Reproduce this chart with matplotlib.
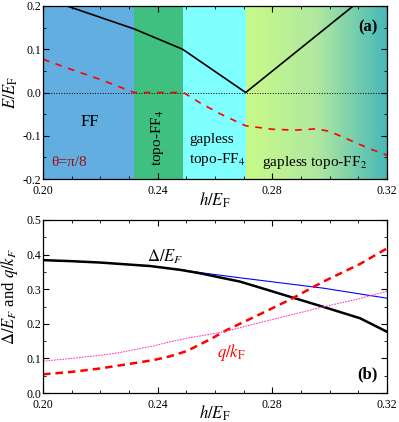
import numpy as np
import matplotlib.pyplot as plt
from matplotlib.colors import LinearSegmentedColormap
from matplotlib.ticker import MultipleLocator

plt.rcParams['font.family'] = 'Liberation Serif'
plt.rcParams['mathtext.fontset'] = 'stix'
plt.rcParams['font.size'] = 10

# phase boundaries (h/E_F)
h_min, h_b1, h_b2, h_b3, h_max = 0.20, 0.2318, 0.2487, 0.2707, 0.32

# panel (a): gap lines
h_gap = [0.20, 0.2318, 0.2487, 0.2707, 0.3082, 0.32]
e_gap = [0.219, 0.147, 0.10, 0.0, 0.20, 0.263]
h_red = [0.200, 0.210, 0.220, 0.2318, 0.240, 0.249, 0.2548, 0.262, 0.2707,
         0.280, 0.288, 0.2955, 0.300, 0.307, 0.314, 0.320]
e_red = [0.077, 0.053, 0.030, 0.0, 0.0, 0.0, -0.024, -0.050, -0.077,
         -0.085, -0.087, -0.084, -0.090, -0.110, -0.130, -0.145]

# panel (b)
h_b = [0.200, 0.210, 0.220, 0.2373, 0.2478, 0.2548, 0.2617, 0.2687, 0.2775,
       0.2862, 0.2978, 0.3106, 0.320]
delta_black = [0.384, 0.381, 0.377, 0.367, 0.356, 0.346, 0.334, 0.322, 0.300,
               0.278, 0.249, 0.216, 0.177]
h_blue = [0.200, 0.220, 0.2373, 0.2478, 0.2548, 0.2687, 0.2978, 0.320]
delta_blue = [0.384, 0.377, 0.367, 0.357, 0.348, 0.333, 0.303, 0.274]
h_q = [0.200, 0.210, 0.220, 0.2269, 0.2385, 0.2443, 0.2501, 0.2583, 0.2641,
       0.2745, 0.2862, 0.2978, 0.3106, 0.320]
q_red = [0.054, 0.061, 0.071, 0.080, 0.095, 0.106, 0.121, 0.155, 0.182,
         0.223, 0.270, 0.322, 0.373, 0.418]
q_pink = [0.092, 0.100, 0.109, 0.117, 0.136, 0.148, 0.158, 0.170, 0.179,
          0.201, 0.225, 0.249, 0.273, 0.294]

fig = plt.figure(figsize=(3.99, 4.22), dpi=100)
ax1 = fig.add_axes([43 / 399, 1 - 179 / 422, 344 / 399, 173 / 422])
ax2 = fig.add_axes([43 / 399, 1 - 393 / 422, 344 / 399, 173 / 422])

# coloured phase regions
ax1.axvspan(h_min, h_b1, color='#62aee0', lw=0, zorder=0)
ax1.axvspan(h_b1, h_b2, color='#40c080', lw=0, zorder=0)
ax1.axvspan(h_b2, h_b3, color='#80ffff', lw=0, zorder=0)
cmap = LinearSegmentedColormap.from_list('g', ['#c8fa88', '#b0e8a0', '#46b8b8'])
grad = np.linspace(0, 1, 256).reshape(1, -1)
ax1.imshow(grad, extent=[h_b3, h_max, -0.2, 0.2], aspect='auto', cmap=cmap,
           zorder=0)

ax1.axhline(0, color='black', lw=0.7, ls=':', zorder=1)
ax1.plot(h_gap, e_gap, color='black', lw=1.2, zorder=2)
ax1.plot(h_red, e_red, color='red', lw=1.2, ls=(0, (4, 4)), zorder=2)

ax1.text(0.2164, -0.068, 'FF', fontsize=12, ha='center', va='center')
ax1.text(0.2400, -0.105, 'topo-FF$_4$', fontsize=11, rotation=90,
         ha='center', va='center')
ax1.text(0.2511, -0.134, 'gapless\ntopo-FF$_4$', fontsize=11,
         ha='left', va='center', linespacing=1.45)
ax1.text(0.2949, -0.161, 'gapless topo-FF$_2$', fontsize=11,
         ha='center', va='center')
ax1.text(0.2030, -0.163, 'θ=π/8', fontsize=11, color='#a01010',
         ha='left', va='center')
ax1.text(0.3167, 0.150, '(a)', fontsize=12, fontweight='bold',
         ha='right', va='center')

ax1.set_xlim(h_min, h_max)
ax1.set_ylim(-0.2, 0.2)
ax1.set_ylabel(r'$E/E_{\rm F}$', fontsize=12)
ax1.set_xlabel(r'$h/E_{\rm F}$', fontsize=12)
ax1.xaxis.set_label_coords(0.5, -0.121)
ax1.yaxis.set_label_coords(-0.093, 0.5)
ax1.yaxis.set_major_locator(MultipleLocator(0.1))
ax1.yaxis.set_minor_locator(MultipleLocator(0.05))
ax1.yaxis.set_major_formatter(lambda v, p: f'{v:.1f}')

ax2.plot(h_blue, delta_blue, color='blue', lw=0.8)
ax2.plot(h_b, delta_black, color='black', lw=1.8)
ax2.plot(h_q, q_red, color='red', lw=1.8, ls=(0, (3, 2)))
ax2.plot(h_q, q_pink, color='#ff40c0', lw=0.8, ls=(0, (1.5, 1)))

ax2.text(0.2363, 0.393, r'$\Delta/E_F$', fontsize=12, ha='left', va='center')
ax2.text(0.2606, 0.116, r'$q/k_{\rm F}$', fontsize=12, color='red',
         ha='left', va='center')
ax2.text(0.3167, 0.055, '(b)', fontsize=12, fontweight='bold',
         ha='right', va='center')

ax2.set_xlim(h_min, h_max)
ax2.set_ylim(0, 0.5)
ax2.set_ylabel(r'$\Delta/E_F$ and $q/k_F$', fontsize=12)
ax2.set_xlabel(r'$h/E_{\rm F}$', fontsize=12)
ax2.xaxis.set_label_coords(0.5, -0.118)
ax2.yaxis.set_label_coords(-0.098, 0.56)
ax2.yaxis.set_major_locator(MultipleLocator(0.1))
ax2.yaxis.set_minor_locator(MultipleLocator(0.05))

for ax in (ax1, ax2):
    ax.xaxis.label.set_va('center')
    ax.yaxis.label.set_va('center')
    ax.xaxis.set_major_locator(MultipleLocator(0.04))
    ax.xaxis.set_minor_locator(MultipleLocator(0.01))
    ax.xaxis.set_major_formatter(lambda v, p: f'{v:.2f}')
    ax.tick_params(which='both', direction='in', top=True, right=True,
                   labelsize=8.5, pad=1.5)
    ax.tick_params(axis='x', which='major', pad=4)
    ax.tick_params(which='major', length=4)
    ax.tick_params(which='minor', length=2)
    for s in ax.spines.values():
        s.set_linewidth(0.9)

fig.savefig('out.png', dpi=100)
